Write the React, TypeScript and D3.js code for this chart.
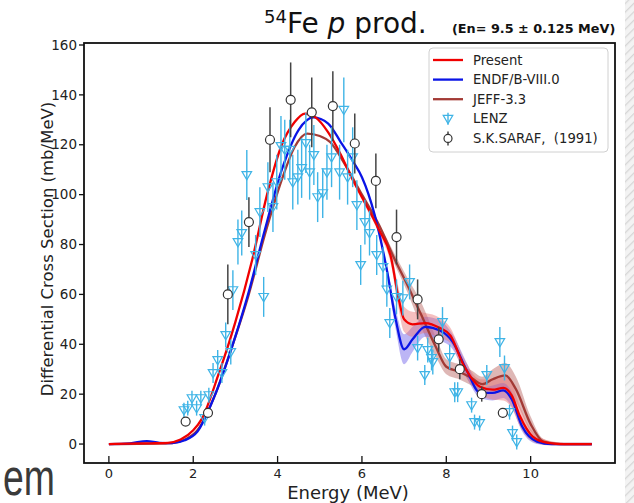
import React from "react";
import * as d3 from "d3";

const W = 634;
const H = 503;

// Present evaluation (red)
const presentE = [0, 0.5, 1.0, 1.4, 1.7, 2.0, 2.2, 2.6, 3.0, 3.4, 3.75, 4.1, 4.4, 4.65, 4.9, 5.2, 5.5, 5.75, 6.0, 6.4, 6.7, 6.85, 7.0, 7.2, 7.5, 7.85, 8.1, 8.4, 8.8, 9.1, 9.35, 9.55, 9.75, 10.05, 10.4, 10.8, 11.45];
const presentV = [0, 0.2, 0.3, 0.5, 1.8, 5.5, 10, 28, 49, 74, 100, 120, 129, 132.5, 131, 125, 116, 107, 99, 86, 74, 60, 50, 48, 48.5, 46.5, 43.5, 32, 23, 21.8, 22.5, 19.5, 11, 3, 0.5, 0, 0];
const presentBand = [0, 0, 0, 0, 0, 0, 0, 0, 0, 0, 0, 0, 0, 0, 0, 0, 0.5, 0.5, 1, 1.5, 3, 4, 5, 5, 4, 4, 3, 3, 3, 4, 5, 5, 4, 2, 1, 0.5, 0.5];

// ENDF/B-VIII.0 (blue)
const endfE = [0, 0.5, 0.9, 1.2, 1.5, 1.8, 2.1, 2.5, 2.9, 3.3, 3.7, 4.1, 4.5, 4.85, 5.2, 5.5, 5.8, 6.0, 6.3, 6.6, 6.8, 7.0, 7.2, 7.5, 7.85, 8.15, 8.5, 8.8, 9.1, 9.35, 9.55, 9.8, 10.15, 10.5, 11.45];
const endfV = [0, 0.3, 1.2, 0.5, 0.4, 1.5, 5, 19, 38, 60, 86, 110, 126, 131, 128.5, 121, 113, 107, 92, 69, 50, 38, 42, 47, 45.5, 41, 29, 20.5, 20.5, 21.5, 18, 7, 1, 0, 0];
const endfBand = [0, 0, 0, 0, 0, 0, 0, 0, 0, 0, 0, 0, 0, 0, 0, 0, 0, 0.5, 1, 2, 4, 6, 5, 4, 4, 3, 3, 2, 3, 3, 3, 2, 1, 0.5, 0.5];

// JEFF-3.3 (brown)
const jeffE = [0, 1.5, 1.8, 2.1, 2.5, 2.9, 3.3, 3.7, 4.1, 4.4, 4.7, 5.0, 5.25, 5.6, 6.0, 6.4, 6.75, 7.1, 7.4, 7.75, 8.0, 8.3, 8.6, 8.85, 9.1, 9.4, 9.65, 10.0, 10.3, 10.7, 11.45];
const jeffV = [0, 0.4, 1.8, 5.5, 19, 38, 59, 84, 106, 119, 124.5, 123.5, 121, 112, 100, 88, 75, 63, 52, 39, 31, 29, 26.5, 24, 26, 27.5, 22, 8, 1, 0, 0];
const jeffBand = [0, 0, 0, 0, 0, 0, 0, 0, 0, 0, 0, 0, 0, 0, 0, 0.5, 2, 3, 5, 4, 3, 3, 3, 3, 4, 5, 5, 3, 1, 0.5, 0.5];

// LENZ measurement
const lenzE = [1.78, 1.87, 1.97, 2.08, 2.18, 2.27, 2.37, 2.47, 2.58, 2.68, 2.77, 2.89, 2.94, 3.06, 3.15, 3.27, 3.48, 3.58, 3.67, 3.77, 3.89, 3.98, 4.08, 4.17, 4.29, 4.36, 4.48, 4.57, 4.67, 4.76, 4.86, 4.95, 5.07, 5.17, 5.28, 5.47, 5.57, 5.66, 5.78, 5.88, 5.97, 6.07, 6.18, 6.35, 6.5, 6.59, 6.66, 6.82, 6.97, 7.13, 7.32, 7.49, 7.56, 7.65, 7.68, 7.91, 8.08, 8.2, 8.27, 8.6, 8.67, 8.79, 8.96, 9.27, 9.38, 9.5, 9.57, 9.67];
const lenzV = [13.6, 14.4, 18.4, 14.4, 18.4, 10.4, 19.6, 28.5, 33.7, 28.5, 43.7, 36.9, 61.7, 81, 84.6, 107.9, 75.8, 93, 59, 103, 95, 105, 119.5, 118, 118, 105, 107, 110.7, 120.7, 109, 115.9, 99, 100.6, 109, 115, 109, 134, 107, 115, 95.8, 71.8, 89, 84.6, 75.8, 71, 62, 48.5, 59, 58.5, 65, 38.5, 27.7, 37.7, 34.5, 32.9, 48.9, 34.9, 20.8, 20.8, 15.6, 8.8, 8.4, 27.7, 40.9, 30.5, 12.8, 4.4, 0.8];
const lenzErr = [3, 3, 3, 3, 3, 3, 3, 4, 4, 4, 5, 5, 8, 9, 9, 10, 8, 10, 8, 10, 10, 11, 12, 12, 12, 11, 11, 12, 12, 11, 12, 10, 10, 11, 12, 11, 13, 11, 12, 10, 8, 9, 9, 8, 8, 7, 6, 7, 7, 7, 5, 4, 5, 5, 5, 6, 5, 4, 4, 3, 3, 3, 4, 6, 5, 3, 3, 3];

// S.K.SARAF (1991)
const sarafE = [1.82, 2.35, 2.82, 3.32, 3.82, 4.31, 4.81, 5.31, 5.83, 6.33, 6.82, 7.32, 7.82, 8.32, 8.84, 9.34];
const sarafV = [9, 12.5, 60, 89, 122, 138, 133, 135.5, 120.5, 105.5, 83, 58, 42, 30, 20, 12.5];
const sarafErr = [1, 1, 12, 10, 13, 15, 14, 14, 12, 11, 11, 8, 5, 4, 3, 2];

const xTicks = [0, 2, 4, 6, 8, 10];
const yTicks = [0, 20, 40, 60, 80, 100, 120, 140, 160];
const legendLabels = ["Present", "ENDF/B-VIII.0", "JEFF-3.3", "LENZ", "S.K.SARAF,\u00a0\u00a0(1991)"];

const RED = "#f00000";
const BLUE = "#0a14e6";
const BROWN = "#a33a35";
const CYAN = "#3fb4e6";
const FONT = "DejaVu Sans";

const tri = "M-4.8,-3.4L4.8,-3.4L0,4.8Z";

export default function App() {
  const x = d3.scaleLinear().domain([-0.59, 12.0]).range([84, 615]);
  const y = d3.scaleLinear().domain([-7.6, 160.8]).range([463, 43]);

  const curves = [
    { E: jeffE, V: jeffV, B: jeffBand, c: BROWN, band: "#b5605a" },
    { E: endfE, V: endfV, B: endfBand, c: BLUE, band: "#6a5ae8" },
    { E: presentE, V: presentV, B: presentBand, c: RED, band: "#e87070" },
  ];

  const line = d3.line<number>().curve(d3.curveMonotoneX);
  const area = d3.area<number>().curve(d3.curveMonotoneX);

  return (
    <svg width={W} height={H} style={{ position: "absolute", left: 0, top: 0, background: "#fff" }} fontFamily={FONT}>
      <defs>
        <pattern id="hatch" width="6" height="6" patternUnits="userSpaceOnUse" patternTransform="rotate(45)">
          <rect width="6" height="6" fill="#f3f3f3" />
          <line x1="0" y1="0" x2="0" y2="6" stroke="#d6d6d6" strokeWidth="2.5" />
        </pattern>
        <clipPath id="plotClip">
          <rect x={84} y={43} width={531} height={420} />
        </clipPath>
      </defs>

      {/* right edge stripe */}
      <rect x={625} y={0} width={9} height={H} fill="url(#hatch)" />

      {/* title */}
      <text x={264} y={33} fontSize={28} fill="#111">
        <tspan fontSize={18} dy={-10}>54</tspan>
        <tspan dy={10}>Fe </tspan>
        <tspan fontStyle="italic">p</tspan>
        <tspan> prod.</tspan>
      </text>
      <text x={452} y={33} fontSize={12.8} fontWeight="bold" fill="#111">(En= 9.5 ± 0.125 MeV)</text>

      {/* bands and curves */}
      <g clipPath="url(#plotClip)">
        {curves.map((cv, i) => {
          const idx = cv.E.map((_, k) => k);
          const a = area
            .x((k) => x(cv.E[k]))
            .y0((k) => y(cv.V[k] - cv.B[k]))
            .y1((k) => y(cv.V[k] + cv.B[k]))(idx);
          return <path key={"b" + i} d={a || ""} fill={cv.band} fillOpacity={0.45} stroke="none" />;
        })}
        {curves.map((cv, i) => {
          const idx = cv.E.map((_, k) => k);
          const l = line.x((k) => x(cv.E[k])).y((k) => y(cv.V[k]))(idx);
          return <path key={"l" + i} d={l || ""} fill="none" stroke={cv.c} strokeWidth={2.3} />;
        })}

        {/* LENZ */}
        {lenzE.map((e, i) => (
          <g key={"lz" + i}>
            <line x1={x(e)} x2={x(e)} y1={y(lenzV[i] - lenzErr[i])} y2={y(lenzV[i] + lenzErr[i])} stroke={CYAN} strokeWidth={1.4} />
            <path d={tri} transform={`translate(${x(e)},${y(lenzV[i])})`} fill="none" stroke={CYAN} strokeWidth={1.2} />
          </g>
        ))}

        {/* SARAF */}
        {sarafE.map((e, i) => (
          <g key={"sk" + i}>
            <line x1={x(e)} x2={x(e)} y1={y(sarafV[i] - sarafErr[i])} y2={y(sarafV[i] + sarafErr[i])} stroke="#444" strokeWidth={1.5} />
            <circle cx={x(e)} cy={y(sarafV[i])} r={4.5} fill="#fff" stroke="#333" strokeWidth={1.2} />
          </g>
        ))}
      </g>

      {/* frame */}
      <rect x={84} y={43} width={531} height={420} fill="none" stroke="#111" strokeWidth={1.8} />

      {/* y axis */}
      {yTicks.map((t) => (
        <g key={"yt" + t}>
          <line x1={79} x2={84} y1={y(t)} y2={y(t)} stroke="#111" strokeWidth={1.3} />
          <text x={77} y={y(t)} dy="0.35em" textAnchor="end" fontSize={13.5} fill="#222">{t}</text>
        </g>
      ))}
      {/* x axis */}
      {xTicks.map((t) => (
        <g key={"xt" + t}>
          <line x1={x(t)} x2={x(t)} y1={456} y2={463} stroke="#111" strokeWidth={1.3} />
          <text x={x(t)} y={477.5} textAnchor="middle" fontSize={13} fill="#222">{t}</text>
        </g>
      ))}

      <text x={348} y={498.5} textAnchor="middle" fontSize={18} fill="#222">Energy (MeV)</text>
      <text transform="translate(53,249) rotate(-90)" textAnchor="middle" fontSize={16.5} fill="#222">
        Differential Cross Section (mb/MeV)
      </text>

      {/* legend */}
      <g>
        <rect x={429} y={48} width={179} height={104} rx={4} fill="#fff" fillOpacity={0.85} stroke="#d0d0d0" strokeWidth={1} />
        {legendLabels.map((lab, i) => {
          const ly = 60 + i * 19.6;
          let marker: React.ReactNode = null;
          if (i < 3) {
            marker = <line x1={433} x2={463} y1={ly} y2={ly} stroke={[RED, BLUE, BROWN][i]} strokeWidth={2.3} />;
          } else if (i === 3) {
            marker = (
              <g>
                <line x1={448} x2={448} y1={ly - 6} y2={ly + 6} stroke={CYAN} strokeWidth={1.4} />
                <path d={tri} transform={`translate(448,${ly})`} fill="none" stroke={CYAN} strokeWidth={1.2} />
              </g>
            );
          } else {
            marker = (
              <g>
                <line x1={448} x2={448} y1={ly - 7} y2={ly + 7} stroke="#444" strokeWidth={1.5} />
                <circle cx={448} cy={ly} r={4} fill="#fff" stroke="#333" strokeWidth={1.2} />
              </g>
            );
          }
          return (
            <g key={"lg" + i}>
              {marker}
              <text x={473} y={ly} dy="0.35em" fontSize={13.2} fill="#222">{lab}</text>
            </g>
          );
        })}
      </g>

      {/* slide fragment */}
      <text transform="translate(3,495) scale(0.72,1)" fontFamily="Liberation Sans" fontSize={52} fill="#3a3a3a">em</text>
    </svg>
  );
}
